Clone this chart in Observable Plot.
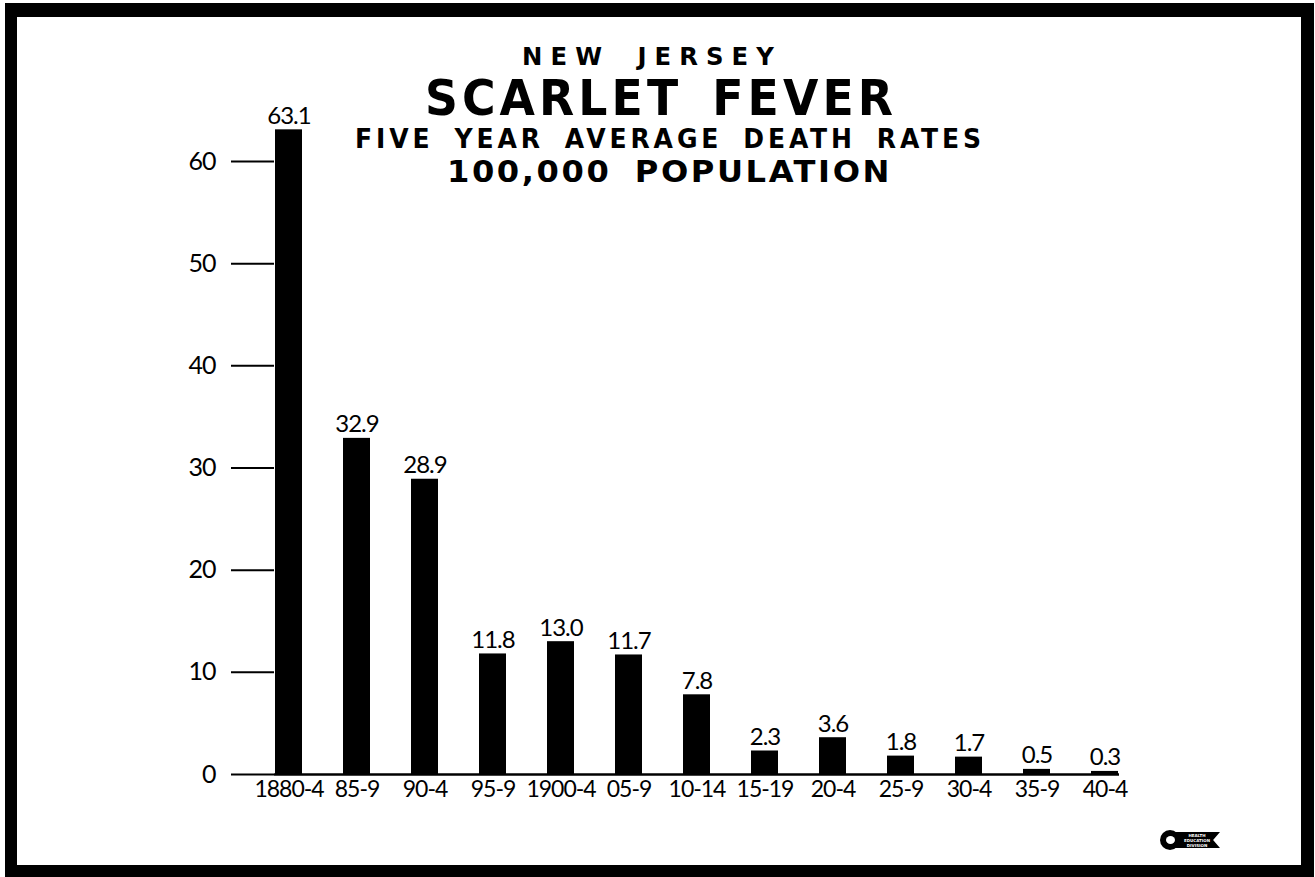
<!DOCTYPE html>
<html>
<head>
<meta charset="utf-8">
<script src="https://cdn.jsdelivr.net/npm/d3@7"></script>
<script src="https://cdn.jsdelivr.net/npm/@observablehq/plot@0.6"></script>
<style>
  html, body { margin: 0; padding: 0; background: #fff; }
  #wrap { position: relative; width: 1315px; height: 877px; overflow: hidden; background: #fff; }
  #chart svg { position: absolute; left: 0; top: 0; overflow: visible; }
  #chart svg text { letter-spacing: -1px; }
  #frame { position: absolute; left: 5px; top: 3px; width: 1309px; height: 874px; box-sizing: border-box;
           border-style: solid; border-color: #000; border-width: 14px 13px 12px 12px; pointer-events: none; }
  .tline { position: absolute; white-space: nowrap; line-height: 0.75; color: #000; font-weight: bold;
           transform-origin: 0 0; }
  .cond { font-family: "DejaVu Sans Condensed", "Liberation Sans Narrow", "DejaVu Sans", sans-serif; font-stretch: condensed; }
  .geo { font-family: "DejaVu Sans", "Lato", sans-serif; }
  #logo { position: absolute; left: 1160px; top: 829px; width: 66px; height: 22px; }
  #logo .c { position: absolute; left: 0; top: 1px; width: 20px; height: 20px; border-radius: 50%; background: #000; }
  #logo .c::after { content: ""; position: absolute; left: 6px; top: 6px; width: 9px; height: 8px; border-radius: 50%; background: #fff; }
  #logo .b { position: absolute; left: 14px; top: 3px; width: 46px; height: 16px; background: #000; color: #fff;
             font: bold 4px "DejaVu Sans", sans-serif; line-height: 5px; text-align: center; padding-top: 1px; box-sizing: border-box;
             clip-path: polygon(0 0, 100% 0, 85% 50%, 100% 100%, 0 100%); }
</style>
</head>
<body>
<div id="wrap">
  <div id="chart"></div>
  <div id="titles"></div>
  <div id="logo"><div class="b">HEALTH<br>EDUCATION<br>DIVISION</div><div class="c"></div></div>
  <div id="frame"></div>
</div>
<script>
// ---- data ----
const periods = ["1880-4", "85-9", "90-4", "95-9", "1900-4", "05-9", "10-14", "15-19", "20-4", "25-9", "30-4", "35-9", "40-4"];
const rates = [63.1, 32.9, 28.9, 11.8, 13.0, 11.7, 7.8, 2.3, 3.6, 1.8, 1.7, 0.5, 0.3];
const rateLabels = ["63.1", "32.9", "28.9", "11.8", "13.0", "11.7", "7.8", "2.3", "3.6", "1.8", "1.7", "0.5", "0.3"];
const yTicks = [0, 10, 20, 30, 40, 50, 60];
const titleLines = ["NEW JERSEY", "SCARLET FEVER", "FIVE YEAR AVERAGE DEATH RATES", "100,000 POPULATION"];

const data = periods.map((p, i) => ({period: p, rate: rates[i], label: rateLabels[i]}));
const numFont = "Lato, 'Open Sans', sans-serif";

const plot = Plot.plot({
  width: 1315,
  height: 877,
  marginLeft: 274,
  marginRight: 196,
  marginTop: 161,
  marginBottom: 103,
  style: {background: "transparent", fontFamily: numFont, color: "#000"},
  x: {domain: periods, paddingInner: 0.6, paddingOuter: 0, axis: null},
  y: {domain: [0, 60], axis: null},
  marks: [
    Plot.barY(data, {x: "period", y: "rate", fill: "#000"}),
    Plot.ruleY([0], {stroke: "#000", strokeWidth: 2.5}),
    Plot.axisY({ticks: yTicks, label: null, tickSize: 43, tickPadding: 16, strokeWidth: 2, fontSize: 25, fill: "#000", stroke: "#000"}),
    Plot.axisX({label: null, tickSize: 0, tickPadding: 6, fontSize: 23, fill: "#000"}),
    Plot.text(data, {x: "period", y: "rate", text: "label", dy: -6, lineAnchor: "bottom", fontSize: 24, fill: "#000"})
  ]
});
document.getElementById("chart").appendChild(plot);

// ---- titles ----
const specs = [
  {cls: "cond", left: 522, width: 260, top: 48, fs: 24, ls: "0.3em", ws: "0.4em"},
  {cls: "cond", left: 425, width: 472, top: 81, fs: 49, ls: "0.08em", ws: "0.2em"},
  {cls: "cond", left: 355, width: 630, top: 130, fs: 26, ls: "0.14em", ws: "0.3em"},
  {cls: "geo",  left: 447, width: 445, top: 161, fs: 30, ls: "0.08em", ws: "0.3em"}
];
const titles = document.getElementById("titles");
titleLines.forEach((t, i) => {
  const s = specs[i];
  const el = document.createElement("div");
  el.className = "tline " + s.cls;
  el.textContent = t;
  el.style.fontSize = s.fs + "px";
  el.style.letterSpacing = s.ls;
  el.style.wordSpacing = s.ws;
  el.style.left = s.left + "px";
  el.style.top = s.top + "px";
  titles.appendChild(el);
  const w = el.getBoundingClientRect().width;
  el.style.transform = `scaleX(${s.width / w})`;
});
</script>
</body>
</html>
